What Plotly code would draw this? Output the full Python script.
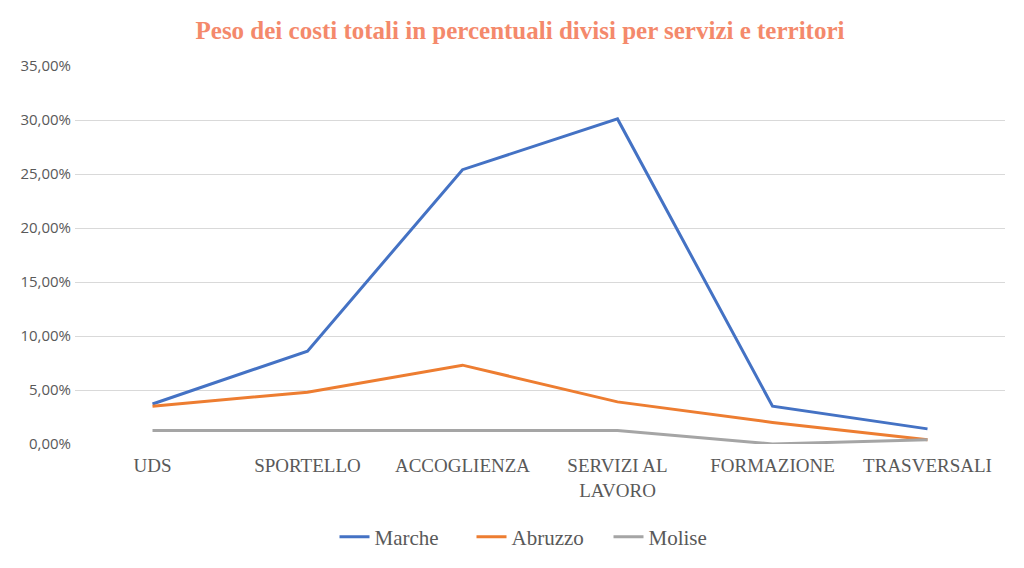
import plotly.graph_objects as go

categorie = ["UDS", "SPORTELLO", "ACCOGLIENZA", "SERVIZI AL<br>LAVORO", "FORMAZIONE", "TRASVERSALI"]
marche = [0.037, 0.086, 0.254, 0.301, 0.035, 0.014]
abruzzo = [0.035, 0.048, 0.073, 0.039, 0.020, 0.004]
molise = [0.0125, 0.0125, 0.0125, 0.0125, 0.0, 0.004]
y_ticks = [0, 0.05, 0.10, 0.15, 0.20, 0.25, 0.30, 0.35]

serif = "Liberation Serif, DejaVu Serif, serif"

fig = go.Figure()
fig.add_trace(go.Scatter(x=categorie, y=marche, name="Marche", mode="lines",
                         line=dict(color="#4472C4", width=3)))
fig.add_trace(go.Scatter(x=categorie, y=abruzzo, name="Abruzzo", mode="lines",
                         line=dict(color="#ED7D31", width=3)))
fig.add_trace(go.Scatter(x=categorie, y=molise, name="Molise", mode="lines",
                         line=dict(color="#A5A5A5", width=3)))

fig.update_layout(
    width=1024, height=568,
    paper_bgcolor="white", plot_bgcolor="white",
    margin=dict(l=64, r=27, t=58, b=132),
    separators=",.",
    title=dict(text="<b>Peso dei costi totali in percentuali divisi per servizi e territori</b>",
               x=0.5, xanchor="center", y=0.961, yanchor="middle",
               font=dict(family=serif, size=25, color="#F4896B")),
    xaxis=dict(range=[-0.5, 5.5], showgrid=False, showline=False, ticks="",
               tickfont=dict(family=serif, size=19, color="#595959"),
               ticklabelstandoff=8),
    yaxis=dict(range=[0, 0.35], tickvals=y_ticks, tickformat=".2%",
               gridcolor="#D9D9D9", gridwidth=1, zeroline=False,
               tickfont=dict(family="Open Sans, Liberation Sans, sans-serif", size=15, color="#595959"),
               ticklabelstandoff=3),
    legend=dict(orientation="h", x=0.5, xanchor="center", y=-0.246, yanchor="middle",
                entrywidth=92,
                font=dict(family=serif, size=21, color="#595959")),
    showlegend=True,
)

fig.write_html("out.html")
